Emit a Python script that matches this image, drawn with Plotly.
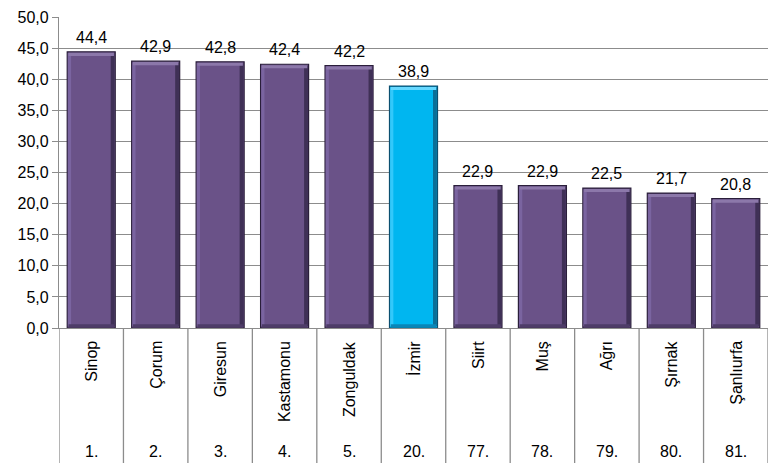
import plotly.graph_objects as go

cities = ["Sinop", "Çorum", "Giresun", "Kastamonu", "Zonguldak", "İzmir",
          "Siirt", "Muş", "Ağrı", "Şırnak", "Şanlıurfa"]
ranks = ["1.", "2.", "3.", "4.", "5.", "20.", "77.", "78.", "79.", "80.", "81."]
values = [44.4, 42.9, 42.8, 42.4, 42.2, 38.9, 22.9, 22.9, 22.5, 21.7, 20.8]
highlight = "İzmir"

PURPLE = "#6A5288"
CYAN = "#00B6F0"
FONT = "Liberation Sans"
FS = 16

x = list(range(len(cities)))
hi = [c == highlight for c in cities]
colors = [CYAN if h else PURPLE for h in hi]
edges = ["#0A4F70" if h else "#2A1E3A" for h in hi]
tops = ["#66D8FF" if h else "#8C78AA" for h in hi]
rights = ["#0A6F98" if h else "#3F3056" for h in hi]
lefts = ["#33C8FA" if h else "#7A64A0" for h in hi]
bottoms = ["#0A86B8" if h else "#4E3C68" for h in hi]

W = 0.745
fig = go.Figure()
fig.add_trace(go.Bar(
    x=x, y=values,
    marker=dict(color=colors, line=dict(color=edges, width=1.2)),
    width=W, hoverinfo="skip",
))
# bevel: left light strip, right dark strip, top highlight, bottom shade
fig.add_trace(go.Bar(x=x, y=[v - 0.5 for v in values], base=[0.3] * len(x),
                     width=0.05, offset=-W / 2 + 0.01,
                     marker=dict(color=lefts, line=dict(width=0)), hoverinfo="skip"))
fig.add_trace(go.Bar(x=x, y=[v - 0.5 for v in values], base=[0.3] * len(x),
                     width=0.06, offset=W / 2 - 0.07,
                     marker=dict(color=rights, line=dict(width=0)), hoverinfo="skip"))
fig.add_trace(go.Bar(x=x, y=[0.5] * len(x), base=[v - 0.65 for v in values],
                     width=W - 0.04,
                     marker=dict(color=tops, line=dict(width=0)), hoverinfo="skip"))
fig.add_trace(go.Bar(x=x, y=[0.45] * len(x), base=[0.15] * len(x),
                     width=W - 0.04,
                     marker=dict(color=bottoms, line=dict(width=0)), hoverinfo="skip"))

shapes = []
for i in range(len(cities) + 1):
    shapes.append(dict(type="line", xref="x", yref="paper",
                       x0=i - 0.5, x1=i - 0.5, y0=0, y1=-135 / 311,
                       line=dict(color="#8C8C8C", width=1.3)))

annotations = []
for i, (c, r, v) in enumerate(zip(cities, ranks, values)):
    annotations.append(dict(x=i, y=v, xref="x", yref="y",
                            text=f"{v:.1f}".replace(".", ","),
                            showarrow=False, yanchor="bottom",
                            xanchor="center", yshift=4,
                            font=dict(family=FONT, size=FS, color="#000000")))
    annotations.append(dict(x=i, y=0, xref="x", yref="paper", text=c,
                            textangle=-90, showarrow=False, yanchor="top",
                            xanchor="center", yshift=-11,
                            font=dict(family=FONT, size=FS, color="#000000")))
    annotations.append(dict(x=i, y=0, xref="x", yref="paper", text=r,
                            showarrow=False, yanchor="middle",
                            xanchor="center", yshift=-123,
                            font=dict(family=FONT, size=FS, color="#000000")))

fig.update_layout(
    width=775, height=472,
    margin=dict(l=59, r=7, t=17, b=144),
    plot_bgcolor="white", paper_bgcolor="white",
    showlegend=False, barmode="overlay",
    separators=",.",
    shapes=shapes, annotations=annotations,
    xaxis=dict(range=[-0.5, len(cities) - 0.5], showticklabels=False,
               showgrid=False, zeroline=False, showline=True,
               linecolor="#8C8C8C", linewidth=1.3, ticks=""),
    yaxis=dict(range=[0, 50], dtick=5, tickformat=".1f",
               showgrid=True, gridcolor="#8C8C8C", gridwidth=1,
               zeroline=False, showline=True, linecolor="#8C8C8C",
               linewidth=1.3, ticks="outside", ticklen=6,
               tickcolor="#8C8C8C",
               tickfont=dict(family=FONT, size=FS, color="#000000")),
)

fig.write_html("out.html", config={"displayModeBar": False},
               post_script="document.body.style.margin='0';")
